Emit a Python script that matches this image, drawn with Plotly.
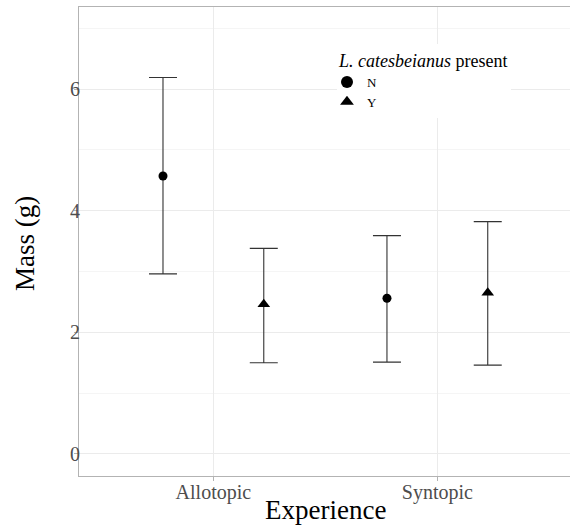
import plotly.graph_objects as go

categories = ["Allotopic", "Syntopic"]
groups = ["N", "Y"]
symbols = {"N": "circle", "Y": "triangle-up"}
dodge = {"N": -0.225, "Y": 0.225}

mean_N = [4.57, 2.56]
upper_N = [6.19, 3.59]
lower_N = [2.96, 1.51]

mean_Y = [2.46, 2.65]
upper_Y = [3.38, 3.82]
lower_Y = [1.50, 1.46]

data = {
    "N": (mean_N, upper_N, lower_N),
    "Y": (mean_Y, upper_Y, lower_Y),
}

FONT = "Liberation Serif"
fig = go.Figure()
for g in groups:
    m, up, lo = data[g]
    xs = [i + dodge[g] for i in range(len(categories))]
    fig.add_trace(go.Scatter(
        x=xs, y=m, mode="markers", name=g,
        marker=dict(symbol=symbols[g], color="black",
                    size=9 if g == "N" else 11, line=dict(width=0)),
        error_y=dict(type="data", symmetric=False,
                     array=[u - v for u, v in zip(up, m)],
                     arrayminus=[v - l for v, l in zip(m, lo)],
                     color="#333333", thickness=1.1, width=14),
    ))

fig.update_layout(
    width=578, height=526,
    margin=dict(l=79, r=0, t=7, b=50),
    plot_bgcolor="white", paper_bgcolor="white",
    font=dict(family=FONT, color="black"),
    showlegend=True,
    legend=dict(
        title=dict(text="<i>L. catesbeianus</i> present",
                   font=dict(family=FONT, size=18, color="black")),
        font=dict(family=FONT, size=13, color="black"),
        bgcolor="white", x=0.517, y=0.922, xanchor="left", yanchor="top",
        tracegroupgap=0, itemsizing="constant", indentation=-10,
    ),
    xaxis=dict(
        range=[-0.6, 1.628], tickmode="array", tickvals=list(range(len(categories))),
        ticktext=categories, showgrid=True, gridcolor="#EBEBEB", gridwidth=1,
        zeroline=False, showline=True, linecolor="#B3B3B3", linewidth=1, mirror=True,
        ticks="outside", ticklen=4, tickcolor="#B3B3B3",
        tickfont=dict(family=FONT, size=20, color="#4D4D4D"),
        ticklabelstandoff=-6,
        automargin=False,
    ),
    yaxis=dict(
        range=[-0.362, 7.348], tickvals=[0, 2, 4, 6],
        showgrid=True, gridcolor="#EBEBEB", gridwidth=1,
        minor=dict(tickvals=[1, 3, 5, 7], showgrid=True, gridcolor="#F5F5F5", gridwidth=1),
        zeroline=False, showline=True, linecolor="#B3B3B3", linewidth=1, mirror=True,
        ticks="outside", ticklen=4, tickcolor="#B3B3B3",
        tickfont=dict(family=FONT, size=20, color="#4D4D4D"),
        ticklabelstandoff=-10,
        automargin=False,
    ),
    annotations=[
        dict(text="Experience", xref="paper", yref="paper", x=0.493, y=-0.072,
             xanchor="center", yanchor="middle", showarrow=False,
             font=dict(family=FONT, size=27, color="black")),
        dict(text="Mass (g)", xref="paper", yref="paper", x=-0.107, y=0.496,
             xanchor="center", yanchor="middle", showarrow=False, textangle=-90,
             font=dict(family=FONT, size=27, color="black")),
    ],
)

fig.write_html(
    "out.html",
    config={"displayModeBar": False},
    post_script="document.body.style.margin='0px';document.body.style.overflow='hidden';",
)
